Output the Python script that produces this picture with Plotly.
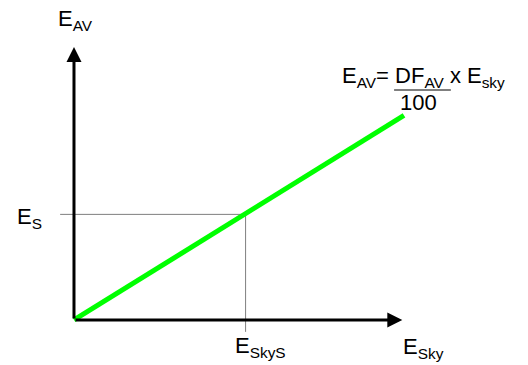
import plotly.graph_objects as go

# diagram values (arbitrary illuminance units)
e_sky = [0, 10]          # sky illuminance along the line
e_av = [0, 6.2]          # E_AV = DF_AV/100 * E_sky, with DF_AV = 62
e_sky_s = 5.2            # chosen sky illuminance
e_s = 3.2                # resulting E_S
x_axis_end = 9.95
y_axis_end = 8.27

FONT = "Liberation Sans, Arial, sans-serif"
GREY = "#7f7f7f"

fig = go.Figure()

# guide lines to the chosen point
fig.add_trace(go.Scatter(
    x=[-0.42, e_sky_s, e_sky_s], y=[e_s, e_s, -0.36],
    mode="lines", line=dict(color=GREY, width=1), hoverinfo="skip",
))
# E_AV vs E_sky
fig.add_trace(go.Scatter(
    x=e_sky, y=e_av, mode="lines",
    line=dict(color="#00ff00", width=5), hoverinfo="skip",
))

# axes with arrow heads
for tip, tail in [((x_axis_end, 0), (0, 0)), ((0, y_axis_end), (0, 0))]:
    fig.add_annotation(
        x=tip[0], y=tip[1], ax=tail[0], ay=tail[1],
        xref="x", yref="y", axref="x", ayref="y", text="",
        showarrow=True, arrowhead=2, arrowsize=1, arrowwidth=3,
        arrowcolor="black", standoff=0, startstandoff=0,
    )

labels = [
    ("E<sub>AV</sub>", 0.05, 9.08, "center"),
    ("E<sub>S</sub>", -1.36, 3.09, "center"),
    ("E<sub>SkyS</sub>", 5.64, -0.82, "center"),
    ("E<sub>Sky</sub>", 10.6, -0.85, "center"),
    ("E<sub>AV</sub>= DF<sub>AV</sub> x E<sub>sky</sub>", 8.07, 7.35, "left"),
    ("100", 10.45, 6.6, "center"),
]
for txt, x, y, anchor in labels:
    fig.add_annotation(
        x=x, y=y, xref="x", yref="y", text=txt, showarrow=False,
        xanchor=anchor, yanchor="middle",
        font=dict(family=FONT, size=22, color="black"),
    )

# fraction bar
fig.add_shape(type="line", x0=9.70, x1=11.42, y0=6.97, y1=6.97,
              xref="x", yref="y", line=dict(color=GREY, width=2))

fig.update_layout(
    width=528, height=365,
    margin=dict(l=0, r=0, t=0, b=0),
    paper_bgcolor="white", plot_bgcolor="white",
    showlegend=False,
    xaxis=dict(range=[-2.242, 13.758], visible=False, fixedrange=True),
    yaxis=dict(range=[-1.364, 9.697], visible=False, fixedrange=True),
)

fig.write_html("out.html", config={"displayModeBar": False},
               post_script="document.body.style.margin='0';")
